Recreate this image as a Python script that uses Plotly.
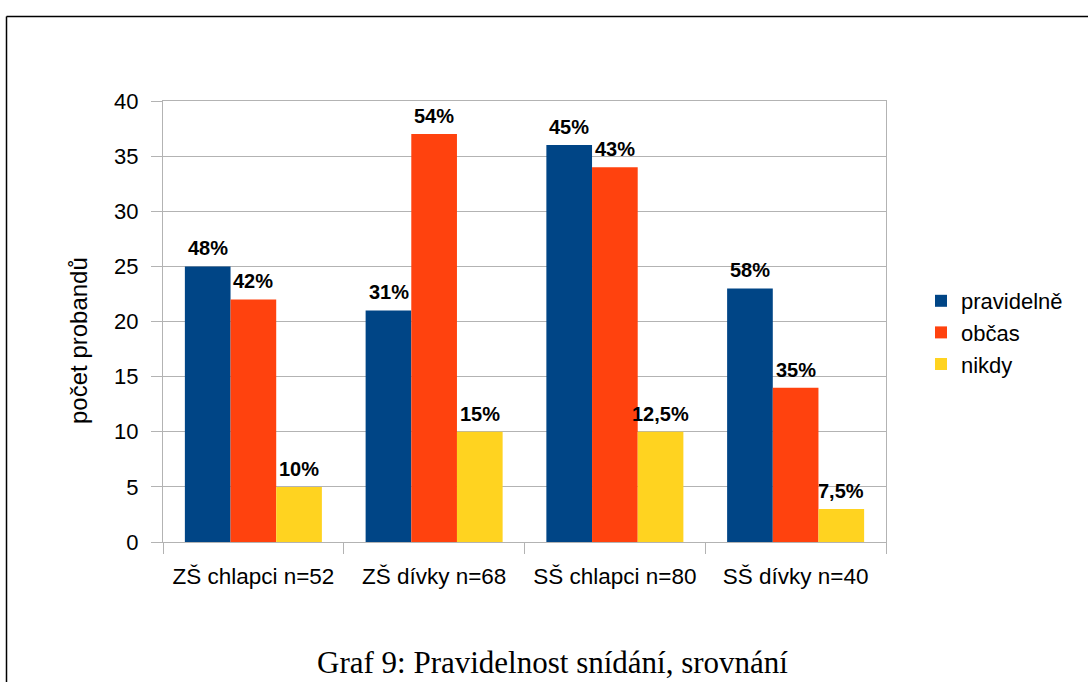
import plotly.graph_objects as go

# Survey groups and respondent counts per breakfast habit
categories = ["ZŠ chlapci n=52", "ZŠ dívky n=68", "SŠ chlapci n=80", "SŠ dívky n=40"]
series_names = ["pravidelně", "občas", "nikdy"]
pravidelne = [25, 21, 36, 23]
obcas = [22, 37, 34, 14]
nikdy = [5, 10, 10, 3]
# Share of each group, as printed above the bars
pravidelne_pct = ["48%", "31%", "45%", "58%"]
obcas_pct = ["42%", "54%", "43%", "35%"]
nikdy_pct = ["10%", "15%", "12,5%", "7,5%"]

y_ticks = [0, 5, 10, 15, 20, 25, 30, 35, 40]

colors = ["#004586", "#ff420e", "#ffd320"]
values = [pravidelne, obcas, nikdy]
labels = [pravidelne_pct, obcas_pct, nikdy_pct]

W, H = 1088, 682
L, R, T, B = 163, 886, 101, 542
plot_w = R - L
bar_w = 45.5
FONT = "Liberation Sans"
FS = 22

fig = go.Figure()
for i, (name, vals) in enumerate(zip(series_names, values)):
    fig.add_trace(go.Bar(
        x=categories, y=vals, name=name,
        marker=dict(color=colors[i], line=dict(width=0)),
        legendgroup=name,
    ))

# Bold percentage labels above each bar
annotations = []
for i, (vals, labs) in enumerate(zip(values, labels)):
    for cat, v, lab in zip(categories, vals, labs):
        annotations.append(dict(
            x=cat, y=v, xref="x", yref="y", text="<b>" + lab + "</b>", showarrow=False,
            xanchor="center", yanchor="bottom", xshift=(i - 1) * bar_w, yshift=5,
            font=dict(family=FONT, size=20, color="#000000"),
        ))

# Y axis title
annotations.append(dict(
    x=(78 - L) / plot_w, y=1 - (341 - T) / (B - T), xref="paper", yref="paper",
    text="počet probandů", showarrow=False, textangle=-90,
    xanchor="center", yanchor="middle",
    font=dict(family=FONT, size=24, color="#000000"),
))

# Caption below the chart
annotations.append(dict(
    x=(552 - L) / plot_w, y=-(682 - B) / (B - T), xref="paper", yref="paper",
    text="Graf 9: Pravidelnost snídání, srovnání", showarrow=False,
    xanchor="center", yanchor="bottom",
    font=dict(family="Liberation Serif", size=31, color="#000000"),
))

# Page frame (top and left edges)
shapes = [
    dict(type="line", xref="paper", yref="paper",
         x0=(6.5 - L) / plot_w, x1=(W + 5 - L) / plot_w,
         y0=1 + (T - 16.5) / (B - T), y1=1 + (T - 16.5) / (B - T),
         line=dict(color="#000000", width=1.5)),
    dict(type="line", xref="paper", yref="paper",
         x0=(6.5 - L) / plot_w, x1=(6.5 - L) / plot_w,
         y0=1 + (T - 16.5) / (B - T), y1=-(H + 5 - B) / (B - T),
         line=dict(color="#000000", width=1.5)),
]

fig.update_layout(
    width=W, height=H,
    margin=dict(l=L, r=W - R, t=T, b=H - B, pad=0),
    paper_bgcolor="#ffffff", plot_bgcolor="#ffffff",
    barmode="group", bargap=0.242, bargroupgap=0,
    font=dict(family=FONT, size=FS, color="#000000"),
    showlegend=True,
    legend=dict(
        x=(921 - L) / plot_w, y=1 - (280 - T) / (B - T),
        xanchor="left", yanchor="top",
        font=dict(family=FONT, size=FS, color="#000000"),
        bgcolor="rgba(0,0,0,0)", tracegroupgap=0,
        itemclick=False,
    ),
    annotations=annotations,
    shapes=shapes,
    xaxis=dict(
        type="category", showgrid=False, zeroline=False,
        showline=True, linecolor="#b3b3b3", linewidth=1, mirror=True,
        ticks="outside", tickson="boundaries", ticklen=11, tickcolor="#b3b3b3",
        ticklabelstandoff=14,
        tickfont=dict(family=FONT, size=22.5, color="#000000"),
        automargin=False,
    ),
    yaxis=dict(
        range=[0, 40], tickvals=y_ticks, showgrid=True, gridcolor="#b3b3b3", gridwidth=1,
        zeroline=False, showline=True, linecolor="#b3b3b3", linewidth=1, mirror=True,
        ticks="outside", ticklen=11, tickcolor="#b3b3b3",
        ticklabelstandoff=8,
        tickfont=dict(family=FONT, size=FS, color="#000000"),
        automargin=False,
    ),
)

fig.write_html("out.html")
